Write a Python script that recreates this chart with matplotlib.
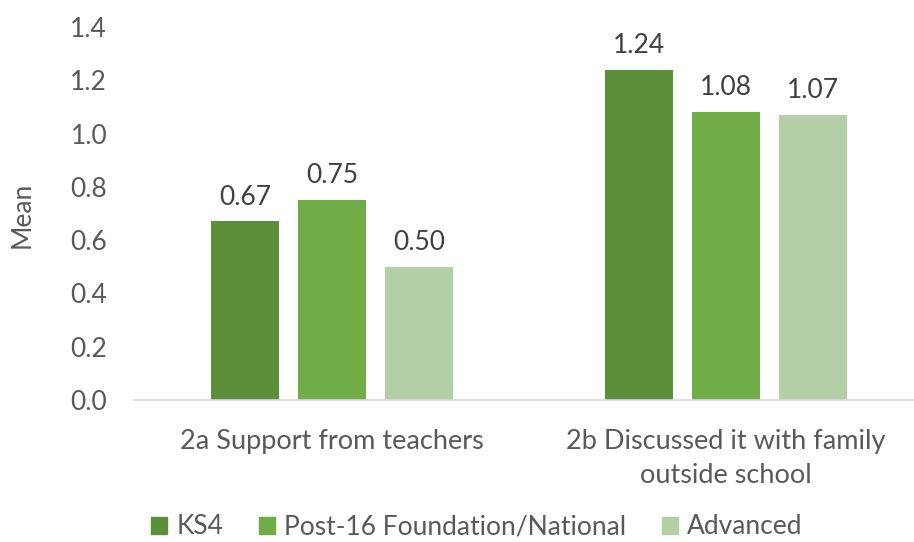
import numpy as np
import matplotlib.pyplot as plt
from matplotlib.patches import Patch

# Data
categories = ['2a Support from teachers', '2b Discussed it with family\noutside school']
series_names = ['KS4', 'Post-16 Foundation/National', 'Advanced']
ks4 = [0.67, 1.24]
post16 = [0.75, 1.08]
advanced = [0.50, 1.07]
colors = ['#5B8F3A', '#70AD47', '#B3CFA5']

plt.rcParams['font.family'] = ['Lato', 'DejaVu Sans']
FS = 19

fig = plt.figure(figsize=(9.14, 5.42), dpi=100)
W, H = 914, 542
# plot area in pixels: x 135..923, y 27..400
ax = fig.add_axes([135 / W, (H - 400) / H, 788 / W, 373 / H])

x = np.arange(len(categories))
width = 0.173
step = 0.221
for i, (vals, name, c) in enumerate(zip([ks4, post16, advanced], series_names, colors)):
    bars = ax.bar(x + (i - 1) * step, vals, width, color=c, label=name)
    for b, v in zip(bars, vals):
        ax.text(b.get_x() + b.get_width() / 2, v + 0.045, f'{v:.2f}',
                ha='center', va='bottom', fontsize=FS, color='#404040')

ax.set_xlim(-0.5, 1.5)
ax.set_ylim(0, 1.4)
ax.set_yticks(np.arange(0, 1.41, 0.2))
ax.set_yticklabels([f'{t:.1f}' for t in np.arange(0, 1.41, 0.2)])
ax.set_xticks(x)
ax.set_xticklabels(categories, fontsize=19.5, color='#595959', linespacing=1.42)
ax.tick_params(axis='y', labelsize=FS, labelcolor='#595959', length=0, pad=20)
ax.tick_params(axis='x', length=0, pad=21)

for s in ['top', 'right', 'left']:
    ax.spines[s].set_visible(False)
ax.spines['bottom'].set_color('#D9D9D9')
ax.spines['bottom'].set_linewidth(1.2)

fig.text(22 / W, 1 - 215 / H, 'Mean', rotation=90, ha='center', va='center',
         fontsize=FS, color='#595959')

handles = [Patch(color=c) for c in colors]
fig.legend(handles, series_names, loc='center', bbox_to_anchor=(477 / W, 1 - 527 / H),
           ncol=3, frameon=False, fontsize=FS, labelcolor='#595959',
           handlelength=0.6, handleheight=0.6, handletextpad=0.35, columnspacing=1.35)

fig.savefig('out.png', dpi=100)
